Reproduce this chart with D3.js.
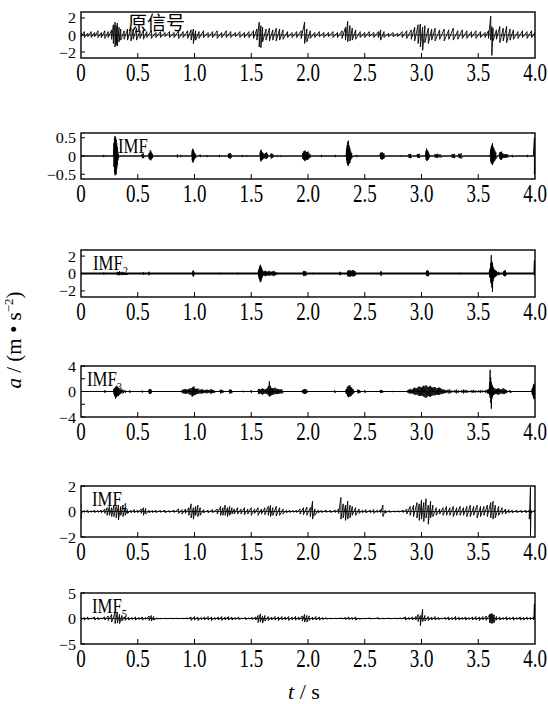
<!DOCTYPE html>
<html>
<head>
<meta charset="utf-8">
<script src="https://cdn.jsdelivr.net/npm/d3@7"></script>
<style>
  body { margin: 0; background: #fff; }
  svg { display: block; }
  text { font-family: "Liberation Serif", "DejaVu Serif", serif; fill: #000; }
</style>
</head>
<body>
<div id="chart"></div>
<script>
// ---- data ----
const timeTicks = [0, 0.5, 1.0, 1.5, 2.0, 2.5, 3.0, 3.5, 4.0];
const panelNames = ["原信号", "IMF", "IMF", "IMF", "IMF", "IMF"];
const panelSubs = ["", "1", "2", "3", "4", "5"];
const panelLimits = [2.7, 0.63, 2.7, 4, 2, 5];
const panelTickLabels = [[2, 0, -2], [0.5, 0, -0.5], [2, 0, -2], [4, 0, -4], [2, 0, -2], [5, 0, -5]];
const panelMinorTicks = [[], [], [], [2, -2], [], []];

// envelopes: [t, upper, lower]
const rawSignal = [
  [0.00,0.3,-0.2],[0.03,0.4,-0.3],[0.06,0.2,-0.2],[0.09,0.4,-0.3],[0.12,0.3,-0.2],[0.15,0.5,-0.3],[0.18,0.3,-0.3],[0.21,0.5,-0.4],[0.24,0.4,-0.3],[0.27,0.6,-0.5],
  [0.285,1.2,-1.0],[0.30,1.5,-1.4],[0.31,1.1,-1.2],[0.32,1.4,-1.3],[0.335,0.9,-0.8],[0.35,0.7,-0.6],[0.38,0.5,-0.5],[0.41,0.7,-0.6],[0.44,0.8,-0.7],[0.46,0.6,-0.5],
  [0.49,0.8,-0.6],[0.52,0.5,-0.4],[0.55,0.6,-0.5],[0.58,0.4,-0.3],[0.62,0.5,-0.4],[0.66,0.3,-0.3],[0.70,0.4,-0.3],[0.74,0.3,-0.2],[0.78,0.4,-0.3],[0.82,0.3,-0.3],
  [0.86,0.5,-0.4],[0.90,0.4,-0.3],[0.94,0.5,-0.4],[0.97,0.6,-0.6],[0.99,0.7,-1.0],[1.01,0.5,-0.6],[1.04,0.4,-0.4],[1.08,0.5,-0.3],[1.12,0.3,-0.3],[1.16,0.4,-0.3],
  [1.20,0.5,-0.4],[1.24,0.3,-0.3],[1.28,0.5,-0.3],[1.32,0.4,-0.3],[1.36,0.3,-0.2],[1.40,0.4,-0.3],[1.44,0.3,-0.3],[1.48,0.4,-0.3],[1.52,0.5,-0.4],[1.55,0.7,-0.6],
  [1.57,1.5,-1.4],[1.585,1.1,-1.5],[1.60,0.9,-0.8],[1.63,0.7,-0.6],[1.66,0.8,-0.7],[1.69,0.6,-0.6],[1.72,0.8,-0.7],[1.75,0.7,-0.6],[1.78,0.6,-0.5],[1.82,0.4,-0.3],
  [1.86,0.3,-0.3],[1.90,0.4,-0.3],[1.94,0.5,-0.4],[1.97,1.5,-1.0],[1.99,0.7,-0.8],[2.02,0.5,-0.4],[2.06,0.3,-0.3],[2.10,0.4,-0.2],[2.14,0.3,-0.3],[2.18,0.3,-0.2],
  [2.22,0.4,-0.3],[2.26,0.3,-0.3],[2.30,0.5,-0.4],[2.33,0.9,-0.6],[2.35,1.6,-0.8],[2.37,1.1,-0.7],[2.39,0.8,-0.6],[2.42,0.6,-0.5],[2.46,0.4,-0.3],[2.50,0.3,-0.3],
  [2.54,0.4,-0.2],[2.58,0.3,-0.3],[2.62,0.4,-0.3],[2.64,0.6,-0.6],[2.67,0.4,-0.3],[2.71,0.2,-0.2],[2.75,0.3,-0.2],[2.79,0.2,-0.2],[2.83,0.4,-0.3],[2.87,0.5,-0.4],
  [2.91,0.6,-0.5],[2.94,0.9,-0.7],[2.97,1.2,-1.0],[2.99,1.3,-1.4],[3.01,0.9,-1.8],[3.03,1.1,-0.9],[3.06,0.8,-1.0],[3.09,0.7,-0.6],[3.12,0.8,-0.7],[3.16,0.6,-0.5],
  [3.20,0.7,-0.7],[3.24,0.6,-0.5],[3.28,0.8,-0.6],[3.32,0.5,-0.5],[3.36,0.6,-0.4],[3.40,0.5,-0.4],[3.44,0.4,-0.3],[3.48,0.5,-0.4],[3.52,0.4,-0.3],[3.56,0.3,-0.3],
  [3.59,0.5,-0.4],[3.61,2.2,-0.6],[3.62,1.0,-2.4],[3.63,0.8,-0.7],[3.66,0.6,-0.5],[3.69,1.0,-0.9],[3.72,0.8,-0.7],[3.75,1.0,-0.9],[3.78,0.7,-0.6],[3.81,0.6,-0.5],
  [3.85,0.4,-0.4],[3.89,0.5,-0.3],[3.93,0.4,-0.4],[3.97,0.5,-0.3],[4.00,0.3,-0.3]
];
const imf1Signal = [
  [0,0,0],[0.195,0,0],[0.20,0.03,-0.03],[0.205,0,0],
  [0.285,0,0],[0.29,0.35,-0.3],[0.295,0.5,-0.45],[0.30,0.55,-0.53],[0.305,0.5,-0.5],[0.31,0.45,-0.5],[0.315,0.35,-0.35],[0.32,0.25,-0.25],[0.325,0.12,-0.12],[0.33,0.05,-0.05],[0.34,0,0],
  [0.53,0,0],[0.54,0.06,-0.06],[0.55,0.07,-0.06],[0.56,0,0],
  [0.595,0,0],[0.60,0.08,-0.08],[0.607,0.1,-0.1],[0.615,0.12,-0.12],[0.622,0.09,-0.09],[0.63,0.06,-0.05],[0.64,0,0],
  [0.845,0,0],[0.85,0.04,-0.04],[0.86,0,0],[0.87,0,0],[0.88,0.03,-0.03],[0.89,0,0],
  [0.975,0,0],[0.98,0.15,-0.12],[0.985,0.2,-0.18],[0.99,0.16,-0.15],[0.995,0.12,-0.12],[1.003,0.08,-0.07],[1.01,0.05,-0.05],[1.02,0,0],
  [1.04,0,0],[1.05,0.04,-0.03],[1.06,0,0],[1.10,0,0],[1.11,0.03,-0.03],[1.12,0,0],
  [1.215,0,0],[1.22,0.03,-0.03],[1.23,0,0],
  [1.295,0,0],[1.30,0.06,-0.05],[1.307,0.07,-0.06],[1.315,0.08,-0.07],[1.322,0.05,-0.05],[1.33,0,0],
  [1.41,0,0],[1.42,0.03,-0.03],[1.43,0,0],[1.45,0,0],[1.46,0.02,-0.02],[1.47,0,0],
  [1.575,0,0],[1.58,0.12,-0.1],[1.585,0.17,-0.15],[1.59,0.14,-0.12],[1.60,0.1,-0.1],[1.61,0.07,-0.07],[1.62,0.06,-0.06],[1.628,0.08,-0.07],[1.635,0.1,-0.08],[1.643,0.06,-0.05],[1.65,0,0],
  [1.665,0,0],[1.675,0.07,-0.07],[1.683,0.06,-0.05],[1.69,0.05,-0.04],[1.70,0,0],
  [1.72,0,0],[1.73,0.02,-0.02],[1.76,0.02,-0.02],[1.78,0,0],
  [1.95,0,0],[1.955,0.08,-0.08],[1.96,0.12,-0.1],[1.968,0.13,-0.12],[1.975,0.15,-0.14],[1.983,0.11,-0.1],[1.99,0.1,-0.1],[1.995,0.11,-0.1],[2.0,0.12,-0.1],[2.01,0.07,-0.06],[2.02,0.04,-0.04],[2.03,0,0],
  [2.115,0,0],[2.12,0.03,-0.03],[2.13,0,0],[2.235,0,0],[2.24,0.03,-0.03],[2.25,0,0],
  [2.335,0,0],[2.34,0.2,-0.12],[2.345,0.3,-0.2],[2.35,0.38,-0.25],[2.355,0.42,-0.27],[2.36,0.3,-0.22],[2.365,0.25,-0.2],[2.37,0.2,-0.18],[2.377,0.12,-0.1],[2.385,0.08,-0.06],[2.40,0,0],
  [2.425,0,0],[2.43,0.03,-0.03],[2.44,0,0],
  [2.63,0,0],[2.64,0.09,-0.08],[2.647,0.09,-0.09],[2.655,0.1,-0.1],[2.662,0.08,-0.08],[2.67,0.07,-0.06],[2.68,0,0],
  [2.815,0,0],[2.82,0.02,-0.02],[2.83,0,0],
  [2.88,0,0],[2.89,0.05,-0.05],[2.897,0.05,-0.05],[2.905,0.06,-0.06],[2.92,0,0],
  [2.955,0,0],[2.965,0.05,-0.04],[2.972,0.05,-0.05],[2.98,0.06,-0.05],[2.995,0,0],
  [3.035,0,0],[3.04,0.14,-0.1],[3.045,0.2,-0.13],[3.052,0.16,-0.12],[3.06,0.12,-0.1],[3.067,0.06,-0.05],[3.075,0,0],
  [3.11,0,0],[3.12,0.05,-0.04],[3.13,0.05,-0.05],[3.14,0.06,-0.05],[3.155,0.05,-0.04],[3.17,0.04,-0.04],[3.19,0,0],
  [3.26,0,0],[3.27,0.05,-0.05],[3.28,0.05,-0.05],[3.29,0.06,-0.06],[3.30,0,0],[3.32,0,0],[3.33,0.06,-0.05],[3.34,0.06,-0.06],[3.35,0.07,-0.07],[3.37,0,0],
  [3.605,0,0],[3.61,0.18,-0.15],[3.615,0.25,-0.2],[3.62,0.3,-0.22],[3.625,0.35,-0.25],[3.632,0.25,-0.2],[3.64,0.2,-0.15],[3.647,0.14,-0.12],[3.655,0.1,-0.08],[3.67,0,0],
  [3.68,0,0],[3.69,0.1,-0.08],[3.697,0.11,-0.1],[3.705,0.12,-0.1],[3.712,0.08,-0.07],[3.72,0.06,-0.05],[3.73,0.05,-0.05],[3.74,0.05,-0.05],[3.75,0.05,-0.04],[3.76,0.04,-0.04],[3.77,0,0],
  [3.79,0,0],[3.80,0.03,-0.03],[3.82,0,0],[3.93,0,0],[3.935,0.03,-0.03],[3.945,0,0],
  [3.985,0,0],[3.995,0.5,-0.5],[4.0,0.5,-0.5]
];
const imf2Signal = [
  [0,0,0],[0.195,0,0],[0.20,0.1,-0.1],[0.21,0,0],
  [0.315,0,0],[0.32,0.2,-0.2],[0.33,0.15,-0.15],[0.34,0.25,-0.2],[0.35,0.1,-0.1],[0.36,0.2,-0.2],[0.375,0.15,-0.15],[0.385,0,0],
  [0.545,0,0],[0.55,0.15,-0.15],[0.56,0,0],[0.59,0,0],[0.60,0.2,-0.2],[0.61,0,0],
  [0.98,0,0],[0.985,0.25,-0.25],[0.99,0.35,-0.35],[0.995,0.2,-0.2],[1.00,0,0],
  [1.22,0,0],[1.225,0.08,-0.08],[1.23,0,0],[1.375,0,0],[1.38,0.08,-0.08],[1.385,0,0],
  [1.56,0,0],[1.565,0.4,-0.4],[1.57,0.6,-0.6],[1.575,0.8,-0.8],[1.58,1.0,-1.0],[1.585,0.8,-0.9],[1.59,0.7,-0.7],[1.595,0.5,-0.5],[1.60,0.3,-0.3],[1.61,0.25,-0.25],[1.62,0.3,-0.3],[1.63,0.3,-0.3],[1.64,0.2,-0.2],
  [1.65,0.25,-0.25],[1.66,0.3,-0.25],[1.67,0.2,-0.2],[1.68,0.2,-0.2],[1.69,0.25,-0.25],[1.70,0.3,-0.3],[1.71,0.2,-0.2],[1.72,0.1,-0.1],[1.73,0,0],
  [1.955,0,0],[1.96,0.25,-0.25],[1.965,0.3,-0.3],[1.973,0.25,-0.25],[1.98,0.25,-0.25],[1.99,0,0],
  [2.04,0,0],[2.045,0.08,-0.08],[2.05,0,0],
  [2.275,0,0],[2.28,0.15,-0.15],[2.285,0.2,-0.2],[2.295,0,0],
  [2.345,0,0],[2.35,0.3,-0.3],[2.355,0.35,-0.35],[2.362,0.3,-0.3],[2.37,0.4,-0.4],[2.377,0.3,-0.3],[2.385,0.3,-0.3],[2.392,0.35,-0.3],[2.40,0.4,-0.35],[2.407,0.3,-0.3],[2.415,0.25,-0.25],[2.425,0,0],
  [2.635,0,0],[2.64,0.2,-0.2],[2.645,0.25,-0.25],[2.655,0,0],
  [3.04,0,0],[3.045,0.3,-0.25],[3.05,0.35,-0.3],[3.055,0.3,-0.3],[3.06,0.3,-0.3],[3.07,0,0],
  [3.34,0,0],[3.345,0.08,-0.08],[3.35,0,0],
  [3.595,0,0],[3.60,0.4,-0.4],[3.605,0.6,-0.5],[3.61,1.2,-1.0],[3.615,2.1,-1.2],[3.62,1.4,-1.6],[3.625,1.2,-2.1],[3.63,0.8,-0.9],[3.635,0.6,-0.6],[3.64,0.5,-0.5],[3.645,0.4,-0.4],[3.652,0.35,-0.35],[3.66,0.3,-0.3],
  [3.67,0.1,-0.1],[3.68,0.2,-0.2],[3.69,0,0],[3.72,0,0],[3.725,0.25,-0.25],[3.73,0.3,-0.3],[3.735,0.35,-0.3],[3.74,0.35,-0.3],[3.75,0,0],
  [3.99,0,0],[3.995,1.5,-0.2],[4.0,1.5,0]
];
const imf3Signal = [
  [0,0,0],[0.205,0,0],[0.21,0.2,-0.2],[0.22,0,0],
  [0.285,0,0],[0.29,0.4,-0.4],[0.295,0.5,-0.6],[0.30,0.6,-0.8],[0.305,0.7,-1.1],[0.31,0.8,-0.9],[0.315,0.9,-0.8],[0.322,0.7,-0.7],[0.33,0.6,-0.7],[0.337,0.5,-0.5],[0.345,0.4,-0.4],[0.352,0.3,-0.3],[0.36,0.2,-0.2],
  [0.37,0.3,-0.3],[0.38,0.1,-0.1],[0.39,0.2,-0.2],[0.40,0,0],[0.42,0,0],[0.43,0.2,-0.2],[0.44,0,0],
  [0.53,0,0],[0.54,0.15,-0.15],[0.55,0,0],[0.59,0,0],[0.60,0.3,-0.3],[0.605,0.35,-0.35],[0.61,0.4,-0.4],[0.615,0.3,-0.3],[0.62,0.2,-0.2],[0.63,0,0],
  [0.885,0,0],[0.89,0.2,-0.2],[0.90,0.3,-0.3],[0.91,0.35,-0.3],[0.92,0.4,-0.4],[0.93,0.3,-0.3],[0.94,0.3,-0.3],[0.95,0.4,-0.4],[0.96,0.5,-0.5],[0.97,0.5,-0.6],[0.98,0.6,-0.8],[0.987,0.7,-0.7],[0.995,0.8,-0.6],
  [1.003,0.5,-0.5],[1.01,0.4,-0.5],[1.02,0.4,-0.4],[1.03,0.5,-0.4],[1.04,0.3,-0.3],[1.05,0.3,-0.3],[1.06,0.3,-0.3],[1.07,0.35,-0.3],[1.08,0.25,-0.25],[1.09,0.2,-0.2],[1.10,0.25,-0.25],[1.11,0.3,-0.3],[1.12,0.25,-0.2],[1.13,0.2,-0.2],
  [1.14,0.3,-0.3],[1.15,0.35,-0.3],[1.16,0.25,-0.25],[1.17,0.2,-0.2],[1.19,0,0],
  [1.22,0,0],[1.23,0.3,-0.3],[1.24,0.25,-0.25],[1.25,0.2,-0.2],[1.26,0,0],[1.30,0,0],[1.31,0.3,-0.3],[1.317,0.28,-0.28],[1.325,0.25,-0.25],[1.34,0,0],
  [1.42,0,0],[1.43,0.1,-0.1],[1.44,0,0],[1.49,0,0],[1.50,0.2,-0.2],[1.51,0,0],
  [1.555,0,0],[1.565,0.4,-0.4],[1.572,0.35,-0.35],[1.58,0.3,-0.3],[1.59,0.4,-0.4],[1.60,0.5,-0.5],[1.61,0.4,-0.4],[1.62,0.3,-0.3],[1.63,0.4,-0.4],[1.64,0.5,-0.4],[1.65,0.8,-0.6],[1.66,1.6,-0.8],
  [1.667,0.9,-0.7],[1.675,0.6,-0.6],[1.683,0.5,-0.5],[1.69,0.5,-0.5],[1.70,0.5,-0.45],[1.71,0.6,-0.4],[1.72,0.45,-0.4],[1.73,0.4,-0.4],[1.74,0.35,-0.35],[1.75,0.3,-0.3],[1.76,0.3,-0.3],[1.77,0.35,-0.3],[1.79,0,0],
  [1.945,0,0],[1.95,0.2,-0.2],[1.96,0.3,-0.3],[1.967,0.35,-0.35],[1.975,0.4,-0.4],[1.983,0.3,-0.3],[1.99,0.2,-0.2],[2.0,0,0],
  [2.225,0,0],[2.235,0.2,-0.2],[2.25,0,0],
  [2.33,0,0],[2.335,0.3,-0.3],[2.34,0.4,-0.4],[2.347,0.7,-0.7],[2.355,0.9,-0.9],[2.362,0.8,-0.8],[2.37,1.0,-0.8],[2.377,0.7,-0.7],[2.385,0.6,-0.6],[2.392,0.4,-0.4],[2.40,0.3,-0.3],[2.415,0,0],
  [2.43,0,0],[2.44,0.3,-0.3],[2.447,0.25,-0.25],[2.455,0.2,-0.2],[2.47,0,0],[2.49,0,0],[2.50,0.2,-0.2],[2.515,0,0],
  [2.63,0,0],[2.64,0.25,-0.25],[2.647,0.2,-0.2],[2.655,0.15,-0.15],[2.67,0,0],[2.74,0,0],[2.745,0.1,-0.1],[2.75,0,0],
  [2.87,0,0],[2.88,0.2,-0.2],[2.89,0.3,-0.3],[2.90,0.4,-0.3],[2.91,0.3,-0.3],[2.92,0.3,-0.3],[2.93,0.5,-0.4],[2.94,0.6,-0.5],[2.95,0.5,-0.5],[2.96,0.5,-0.5],[2.97,0.7,-0.6],[2.98,0.8,-0.7],[2.99,0.7,-0.7],
  [3.00,0.6,-0.6],[3.01,0.8,-0.7],[3.02,0.9,-0.8],[3.03,0.8,-0.9],[3.04,1.0,-1.0],[3.05,0.8,-0.8],[3.06,0.7,-0.7],[3.07,0.8,-0.8],[3.08,0.9,-0.8],[3.09,0.7,-0.7],[3.10,0.6,-0.6],[3.11,0.7,-0.6],[3.12,0.7,-0.6],
  [3.13,0.5,-0.5],[3.14,0.5,-0.5],[3.15,0.6,-0.5],[3.16,0.6,-0.5],[3.17,0.5,-0.4],[3.18,0.4,-0.4],[3.19,0.3,-0.3],[3.20,0.3,-0.3],[3.21,0.2,-0.2],[3.22,0.2,-0.2],[3.235,0.3,-0.3],[3.25,0.3,-0.3],[3.265,0.15,-0.15],[3.28,0.1,-0.1],
  [3.295,0.2,-0.2],[3.31,0.3,-0.3],[3.325,0.15,-0.15],[3.34,0.1,-0.1],[3.355,0.2,-0.2],[3.37,0.3,-0.3],[3.385,0.25,-0.2],[3.40,0.2,-0.2],[3.415,0.1,-0.1],[3.43,0.1,-0.1],[3.445,0.2,-0.2],[3.46,0.25,-0.2],[3.475,0.15,-0.15],[3.49,0.1,-0.1],
  [3.505,0.15,-0.15],[3.52,0.2,-0.2],[3.535,0.15,-0.1],[3.55,0.1,-0.1],[3.565,0.2,-0.2],[3.58,0.3,-0.3],[3.59,0.35,-0.3],[3.595,0.4,-0.3],[3.60,1.5,-0.6],[3.605,3.4,-1.0],[3.61,2.2,-1.8],[3.615,1.5,-2.7],[3.62,1.1,-1.2],[3.625,0.9,-0.8],
  [3.632,0.7,-0.6],[3.64,0.5,-0.5],[3.65,0.45,-0.4],[3.66,0.4,-0.4],[3.67,0.45,-0.45],[3.68,0.5,-0.5],[3.69,0.4,-0.4],[3.70,0.3,-0.3],[3.71,0.4,-0.35],[3.72,0.5,-0.4],[3.73,0.4,-0.35],[3.74,0.3,-0.3],[3.75,0.2,-0.2],[3.76,0.1,-0.1],
  [3.78,0.2,-0.2],[3.80,0,0],[3.97,0,0],[3.975,0.4,-0.4],[3.98,0.6,-0.6],[3.985,0.9,-0.9],[3.99,1.2,-1.2],[3.995,1.1,-1.1],[4.0,1.0,-1.0]
];
const imf4Signal = [
  [0.00,0.6,-0.6],[0.005,0.1,-0.1],[0.03,0.08,-0.06],[0.06,0.1,-0.08],[0.09,0.06,-0.06],[0.12,0.1,-0.08],[0.15,0.08,-0.06],
  [0.18,0.1,-0.1],[0.21,0.2,-0.15],[0.23,0.3,-0.3],[0.25,0.4,-0.3],[0.27,0.3,-0.4],[0.29,0.5,-0.4],[0.31,0.4,-0.5],
  [0.33,0.5,-0.65],[0.35,0.4,-0.3],[0.37,0.5,-0.4],[0.39,0.3,-0.3],[0.41,0.15,-0.15],[0.44,0.1,-0.1],[0.47,0.15,-0.1],
  [0.50,0.1,-0.1],[0.53,0.2,-0.15],[0.55,0.3,-0.3],[0.57,0.25,-0.2],[0.60,0.1,-0.1],[0.63,0.08,-0.08],[0.66,0.1,-0.08],
  [0.70,0.08,-0.06],[0.74,0.1,-0.08],[0.78,0.06,-0.06],[0.82,0.1,-0.08],[0.86,0.2,-0.15],[0.89,0.15,-0.2],[0.92,0.2,-0.15],
  [0.95,0.3,-0.3],[0.97,0.6,-0.5],[0.99,0.3,-0.6],[1.01,0.4,-0.3],[1.03,0.5,-0.4],[1.05,0.3,-0.3],[1.08,0.15,-0.1],
  [1.12,0.1,-0.1],[1.16,0.15,-0.1],[1.20,0.2,-0.2],[1.23,0.4,-0.3],[1.25,0.3,-0.3],[1.27,0.5,-0.3],[1.29,0.3,-0.4],
  [1.31,0.4,-0.3],[1.33,0.3,-0.2],[1.35,0.2,-0.2],[1.38,0.3,-0.2],[1.41,0.2,-0.2],[1.44,0.3,-0.25],[1.47,0.2,-0.2],
  [1.50,0.3,-0.3],[1.53,0.2,-0.15],[1.56,0.3,-0.3],[1.59,0.2,-0.2],[1.62,0.3,-0.25],[1.65,0.4,-0.3],[1.67,0.5,-0.4],
  [1.69,0.3,-0.3],[1.72,0.4,-0.35],[1.75,0.3,-0.3],[1.78,0.2,-0.2],[1.81,0.1,-0.1],[1.84,0.1,-0.08],[1.87,0.08,-0.06],
  [1.90,0.1,-0.08],[1.93,0.2,-0.2],[1.96,0.3,-0.25],[1.99,0.35,-0.3],[2.02,0.3,-0.4],[2.04,0.8,-0.6],[2.06,0.2,-0.3],
  [2.09,0.1,-0.1],[2.12,0.08,-0.08],[2.16,0.1,-0.06],[2.20,0.08,-0.08],[2.24,0.1,-0.08],[2.27,0.2,-0.15],[2.29,1.1,-0.6],
  [2.31,0.6,-0.5],[2.33,0.5,-0.7],[2.35,0.8,-0.6],[2.37,0.5,-0.5],[2.39,0.4,-0.3],[2.42,0.3,-0.3],[2.45,0.2,-0.15],
  [2.48,0.1,-0.1],[2.51,0.15,-0.1],[2.55,0.1,-0.1],[2.58,0.15,-0.15],[2.61,0.1,-0.08],[2.64,0.15,-0.1],[2.66,0.5,-0.4],
  [2.68,0.1,-0.1],[2.72,0.06,-0.06],[2.76,0.04,-0.04],[2.80,0.05,-0.05],[2.84,0.1,-0.08],[2.87,0.2,-0.2],[2.90,0.4,-0.3],
  [2.93,0.5,-0.4],[2.96,0.7,-0.5],[2.98,0.6,-0.7],[3.00,0.9,-0.6],[3.02,0.7,-0.8],[3.04,1.0,-0.5],[3.06,0.5,-1.0],
  [3.08,0.8,-0.5],[3.10,0.5,-0.4],[3.13,0.3,-0.3],[3.16,0.2,-0.2],[3.19,0.3,-0.3],[3.22,0.4,-0.3],[3.25,0.3,-0.3],
  [3.28,0.4,-0.4],[3.31,0.3,-0.3],[3.34,0.4,-0.3],[3.37,0.3,-0.3],[3.40,0.4,-0.4],[3.43,0.5,-0.4],[3.46,0.4,-0.3],
  [3.49,0.5,-0.5],[3.52,0.4,-0.4],[3.55,0.4,-0.3],[3.58,0.5,-0.4],[3.61,0.7,-0.5],[3.63,0.8,-0.6],[3.65,0.5,-0.5],
  [3.68,0.4,-0.3],[3.71,0.3,-0.2],[3.74,0.2,-0.2],[3.77,0.15,-0.1],[3.80,0.1,-0.1],[3.84,0.1,-0.08],[3.88,0.08,-0.08],
  [3.92,0.1,-0.1],[3.95,0.1,-0.6],[3.96,1.9,-1.9],[3.965,0.1,-0.1],[4.0,0.1,-0.1]
];
const imf5Signal = [
  [0,0.3,-0.3],[0.03,0.2,-0.3],[0.06,0.3,-0.2],[0.09,0.1,-0.1],[0.12,0.3,-0.3],[0.15,0.2,-0.2],[0.18,0.1,-0.1],[0.21,0.3,-0.3],
  [0.24,0.5,-0.4],[0.27,0.8,-0.7],[0.30,1.1,-1.0],[0.32,1.2,-0.9],[0.34,0.8,-1.0],[0.36,0.6,-0.5],[0.39,0.4,-0.4],[0.42,0.3,-0.3],
  [0.45,0.2,-0.2],[0.48,0.3,-0.3],[0.51,0.2,-0.2],[0.54,0.3,-0.3],[0.57,0.2,-0.2],[0.60,0.5,-0.4],[0.62,0.6,-0.5],[0.64,0.4,-0.3],
  [0.67,0.1,-0.1],[0.70,0.05,-0.05],[0.75,0.05,-0.05],[0.80,0.04,-0.04],[0.85,0.05,-0.05],[0.90,0.05,-0.05],[0.94,0.1,-0.1],
  [0.97,0.3,-0.4],[1.00,0.4,-0.3],[1.03,0.3,-0.4],[1.06,0.2,-0.2],[1.09,0.3,-0.3],[1.12,0.4,-0.3],[1.15,0.3,-0.4],[1.18,0.2,-0.2],
  [1.21,0.3,-0.3],[1.24,0.4,-0.4],[1.27,0.3,-0.3],[1.30,0.4,-0.3],[1.33,0.3,-0.3],[1.36,0.2,-0.2],[1.39,0.3,-0.2],[1.42,0.1,-0.1],
  [1.45,0.2,-0.2],[1.48,0.1,-0.1],[1.51,0.2,-0.2],[1.54,0.3,-0.3],[1.56,0.6,-0.8],[1.58,0.9,-0.7],[1.60,0.5,-0.9],[1.62,0.6,-0.5],
  [1.65,0.4,-0.4],[1.68,0.3,-0.3],[1.71,0.4,-0.3],[1.74,0.3,-0.4],[1.77,0.4,-0.3],[1.80,0.3,-0.3],[1.83,0.4,-0.4],[1.86,0.3,-0.3],
  [1.89,0.4,-0.3],[1.92,0.3,-0.3],[1.95,0.5,-0.5],[1.97,0.8,-0.7],[1.99,0.6,-0.7],[2.01,0.5,-0.4],[2.04,0.3,-0.3],[2.07,0.4,-0.3],
  [2.10,0.3,-0.3],[2.13,0.2,-0.2],[2.16,0.15,-0.1],[2.20,0.05,-0.05],[2.25,0.05,-0.05],[2.30,0.1,-0.1],[2.33,0.2,-0.2],[2.36,0.3,-0.2],
  [2.39,0.2,-0.2],[2.42,0.3,-0.3],[2.45,0.1,-0.1],[2.50,0.05,-0.05],[2.55,0.1,-0.1],[2.58,0.05,-0.05],[2.62,0.15,-0.1],[2.66,0.05,-0.05],
  [2.72,0.05,-0.05],[2.78,0.05,-0.05],[2.82,0.1,-0.1],[2.86,0.3,-0.3],[2.89,0.2,-0.2],[2.92,0.3,-0.3],[2.95,0.4,-0.3],[2.97,0.8,-0.6],
  [2.99,0.6,-1.4],[3.01,1.8,-0.6],[3.03,0.6,-0.5],[3.06,0.4,-0.4],[3.09,0.3,-0.3],[3.12,0.4,-0.3],[3.15,0.2,-0.2],[3.18,0.1,-0.1],
  [3.21,0.2,-0.2],[3.24,0.3,-0.3],[3.27,0.2,-0.3],[3.30,0.4,-0.3],[3.33,0.3,-0.3],[3.36,0.2,-0.2],[3.39,0.3,-0.3],[3.42,0.2,-0.2],
  [3.45,0.3,-0.3],[3.48,0.4,-0.3],[3.51,0.3,-0.4],[3.54,0.4,-0.3],[3.57,0.5,-0.4],[3.60,0.8,-0.8],[3.61,0.9,-0.9],[3.62,1.0,-1.0],[3.63,0.8,-0.9],[3.64,0.7,-0.8],
  [3.66,0.4,-0.3],[3.69,0.3,-0.3],[3.72,0.2,-0.2],[3.75,0.3,-0.3],[3.78,0.2,-0.2],[3.81,0.3,-0.3],[3.84,0.2,-0.2],[3.87,0.3,-0.3],
  [3.90,0.2,-0.3],[3.93,0.3,-0.2],[3.96,0.2,-0.2],[3.99,0.3,-0.3],[3.995,2.9,0],[4.0,2.9,0]
];
const panelSignals = [rawSignal, imf1Signal, imf2Signal, imf3Signal, imf4Signal, imf5Signal];

// ---- layout ----
const width = 548, height = 704;
const left = 81, right = 535;
const panelTops = [12, 133, 250, 366, 486, 593];
const panelBottoms = [58, 179, 297, 417, 537, 644];
const baseWidths = [0.8, 1, 1.8, 1, 0.8, 0.8];
const nameXs = [128, 118, 93, 87, 92, 92];

const svg = d3.select('#chart')
  .append('svg')
  .attr('width', width)
  .attr('height', height);

const x = d3.scaleLinear().domain([0, 4]).range([left, right]);

panelSignals.forEach((signal, i) => {
  const top = panelTops[i], bottom = panelBottoms[i];
  const y = d3.scaleLinear().domain([-panelLimits[i], panelLimits[i]]).range([bottom, top]);
  const g = svg.append('g');

  g.append('clipPath').attr('id', 'clip' + i)
    .append('rect')
    .attr('x', left).attr('y', top)
    .attr('width', right - left).attr('height', bottom - top);

  // swing between upper and lower value at each reading, like the dense trace
  const trace = d3.line()
    .x(d => x(d[0]))
    .y(d => y(d[1]));
  const swings = signal.flatMap(d => [[d[0], d[1]], [d[0], d[2]]]);

  g.append('line')
    .attr('x1', x(0)).attr('x2', x(4))
    .attr('y1', y(0)).attr('y2', y(0))
    .attr('stroke', '#000')
    .attr('stroke-width', baseWidths[i]);

  g.append('path')
    .datum(swings)
    .attr('clip-path', 'url(#clip' + i + ')')
    .attr('d', trace)
    .attr('fill', 'none')
    .attr('stroke', '#000')
    .attr('stroke-width', 0.9);

  g.append('rect')
    .attr('x', left).attr('y', top)
    .attr('width', right - left).attr('height', bottom - top)
    .attr('fill', 'none')
    .attr('stroke', '#000')
    .attr('stroke-width', 1.4);

  // x ticks (inward) and labels
  g.selectAll('.xt')
    .data(timeTicks.slice(1, -1))
    .enter().append('line')
    .attr('x1', d => x(d)).attr('x2', d => x(d))
    .attr('y1', bottom).attr('y2', bottom - 5)
    .attr('stroke', '#000').attr('stroke-width', 1);

  g.selectAll('.xl')
    .data(timeTicks)
    .enter().append('text')
    .attr('transform', d => `translate(${x(d)},${bottom + 23}) scale(0.76,1)`)
    .attr('text-anchor', 'middle')
    .style('font-size', '25px')
    .text(d => d === 0 ? '0' : d3.format('.1f')(d));

  // y ticks and labels
  g.selectAll('.yt')
    .data(panelTickLabels[i].concat(panelMinorTicks[i]))
    .enter().append('line')
    .attr('x1', left).attr('x2', left + 4)
    .attr('y1', d => y(d)).attr('y2', d => y(d))
    .attr('stroke', '#000').attr('stroke-width', 1);

  g.selectAll('.yl')
    .data(panelTickLabels[i])
    .enter().append('text')
    .attr('transform', d => `translate(${left - 5},${y(d) + 5.5}) scale(0.95,0.88)`)
    .attr('text-anchor', 'end')
    .style('font-size', '17px')
    .text(d => d < 0 ? '\u2212' + Math.abs(d) : String(d));

  // panel name
  if (i === 0) {
    g.append('text')
      .attr('x', nameXs[i]).attr('y', 30)
      .style('font-family', '"Noto Sans CJK SC", sans-serif')
      .style('font-size', '19px')
      .text(panelNames[i]);
  } else {
    const t = g.append('text')
      .attr('transform', `translate(${nameXs[i]},${top + 20}) scale(0.8,1)`)
      .style('font-size', '21px');
    t.append('tspan').text(panelNames[i]);
    t.append('tspan').attr('dy', 5).style('font-size', '13px').text(panelSubs[i]);
  }
});

// axis titles
const yTitle = svg.append('text')
  .attr('transform', 'translate(21,340) rotate(-90)')
  .attr('text-anchor', 'middle')
  .style('font-size', '21px');
yTitle.append('tspan').style('font-style', 'italic').text('a');
yTitle.append('tspan').text(' / (m \u2022 s');
yTitle.append('tspan').attr('dy', -8).style('font-size', '13px').text('\u22122');
yTitle.append('tspan').attr('dy', 8).text(')');

const xTitle = svg.append('text')
  .attr('x', 304).attr('y', 699)
  .attr('text-anchor', 'middle')
  .style('font-size', '22px');
xTitle.append('tspan').style('font-style', 'italic').text('t');
xTitle.append('tspan').text(' / s');
</script>
</body>
</html>
